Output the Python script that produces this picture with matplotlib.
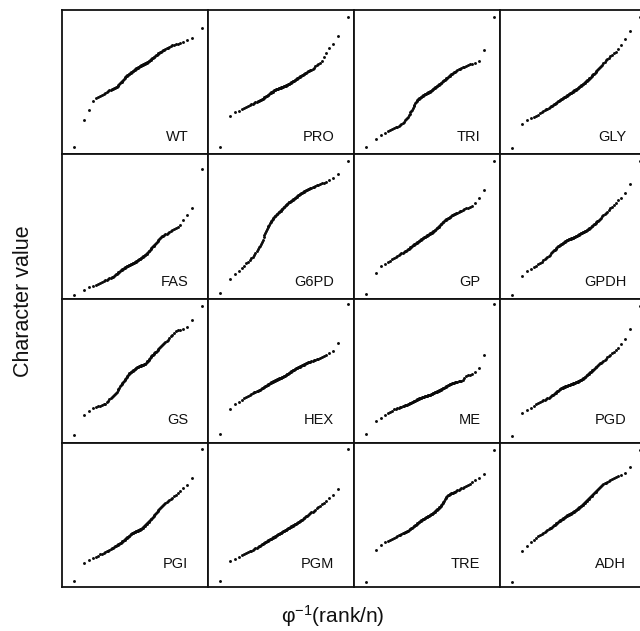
from statistics import NormalDist
import numpy as np
import matplotlib
matplotlib.use("Agg")
import matplotlib.pyplot as plt

plt.rcParams['font.family'] = ['Liberation Sans', 'DejaVu Sans']
plt.rcParams['mathtext.fontset'] = 'custom'
plt.rcParams['mathtext.rm'] = 'Liberation Sans'
plt.rcParams['mathtext.default'] = 'regular'

# locus names, row by row
names = ['WT', 'PRO', 'TRI', 'GLY',
         'FAS', 'G6PD', 'GP', 'GPDH',
         'GS', 'HEX', 'ME', 'PGD',
         'PGI', 'PGM', 'TRE', 'ADH']

# sorted character values per locus (arbitrary units, 0-100), 100 lines each
wt = [5, 24, 31, 36.7, 38.7, 39.7, 40.6, 41.3, 42.0, 42.6, 43.2, 43.7, 44.2, 44.6, 45.1, 45.5, 45.8, 46.2, 46.6, 46.9,
      47.5, 48.1, 48.7, 49.3, 49.8, 50.4, 50.9, 51.5, 52.1, 52.7, 53.3, 53.9, 54.4, 54.8, 55.2, 55.5, 55.9, 56.2, 56.6, 56.9,
      57.3, 57.6, 57.9, 58.3, 58.6, 58.9, 59.3, 59.6, 59.9, 60.1, 60.4, 60.6, 60.9, 61.1, 61.4, 61.6, 61.9, 62.1, 62.4, 62.6,
      62.9, 63.1, 63.4, 63.6, 63.9, 64.2, 64.4, 64.8, 65.2, 65.6, 66.0, 66.4, 66.8, 67.2, 67.7, 68.1, 68.5, 69.0, 69.5, 70.0,
      70.4, 70.7, 71.2, 71.6, 72.0, 72.5, 72.9, 73.4, 74.0, 74.5, 75.1, 75.4, 75.8, 76.2, 76.6, 77.1, 77.8, 78.9, 80.6, 87.5]
pro = [5, 26.7, 29.0, 30.3, 31.3, 32.1, 32.8, 33.5, 34.0, 34.6, 35.0, 35.5, 35.9, 36.3, 36.7, 37.1, 37.4, 37.8, 38.2, 38.6,
       39.1, 39.5, 39.9, 40.3, 40.7, 41.1, 41.4, 41.8, 42.2, 42.5, 42.9, 43.2, 43.5, 43.9, 44.2, 44.5, 44.7, 44.9, 45.1, 45.3,
       45.4, 45.6, 45.8, 46.0, 46.2, 46.4, 46.5, 46.7, 46.9, 47.1, 47.3, 47.5, 47.6, 47.8, 48.0, 48.2, 48.4, 48.7, 49.0, 49.3,
       49.6, 49.9, 50.2, 50.5, 50.8, 51.1, 51.4, 51.7, 52.1, 52.4, 52.7, 53.1, 53.4, 53.7, 54.1, 54.5, 54.8, 55.1, 55.5, 55.8,
       56.2, 56.6, 57.0, 57.4, 57.8, 58.2, 58.7, 59.4, 60.1, 60.9, 61.7, 62.6, 63.5, 64.9, 67.4, 70.2, 73.4, 76.5, 82.2, 95]
tri = [5, 10.6, 13.3, 14.9, 15.9, 16.8, 17.5, 18.1, 18.7, 19.2, 19.7, 20.1, 21.0, 21.9, 22.6, 23.4, 24.1, 24.8, 25.9, 26.9,
       27.9, 29.0, 29.9, 31.0, 32.1, 33.2, 34.2, 35.2, 36.3, 37.2, 37.8, 38.1, 38.5, 38.9, 39.2, 39.6, 39.9, 40.3, 40.6, 40.9,
       41.2, 41.5, 41.7, 42.0, 42.2, 42.5, 42.8, 43.0, 43.3, 43.5, 43.8, 44.0, 44.3, 44.6, 44.9, 45.3, 45.7, 46.0, 46.4, 46.7,
       47.1, 47.4, 47.8, 48.2, 48.6, 48.9, 49.3, 49.7, 50.1, 50.5, 50.9, 51.4, 51.8, 52.2, 52.7, 53.1, 53.6, 54.1, 54.5, 55.0,
       55.4, 55.8, 56.3, 56.7, 57.2, 57.7, 58.2, 58.8, 59.3, 59.8, 60.2, 60.7, 61.2, 61.7, 62.3, 62.9, 63.6, 64.6, 72, 95.4]
gly = [4, 20.8, 23.6, 24.8, 25.9, 26.7, 27.5, 28.4, 29.1, 29.9, 30.5, 31.1, 31.7, 32.2, 32.7, 33.2, 33.7, 34.1, 34.6, 35.0,
       35.4, 35.8, 36.2, 36.6, 36.9, 37.3, 37.7, 38.0, 38.4, 38.7, 39.1, 39.4, 39.7, 40.0, 40.3, 40.7, 41.0, 41.3, 41.6, 41.9,
       42.2, 42.5, 42.8, 43.1, 43.4, 43.6, 43.9, 44.2, 44.5, 44.8, 45.1, 45.4, 45.6, 46.0, 46.4, 46.7, 47.1, 47.5, 47.8, 48.2,
       48.6, 48.9, 49.3, 49.7, 50.1, 50.5, 50.9, 51.3, 51.7, 52.2, 52.7, 53.2, 53.7, 54.2, 54.8, 55.3, 55.8, 56.4, 57.0, 57.6,
       58.2, 58.9, 59.7, 60.5, 61.3, 62.1, 63.0, 64.0, 65.0, 66.1, 67.0, 67.9, 68.8, 69.9, 71.1, 72.8, 75.8, 79.6, 85.1, 95]
fas = [2.5, 6.1, 7.9, 8.9, 9.7, 10.3, 10.8, 11.4, 12.0, 12.5, 13.0, 13.5, 13.9, 14.3, 14.7, 15.2, 15.7, 16.3, 16.8, 17.2,
       17.7, 18.2, 18.6, 19.0, 19.5, 19.9, 20.3, 20.7, 21.1, 21.4, 21.8, 22.0, 22.2, 22.5, 22.7, 23.0, 23.2, 23.4, 23.7, 23.9,
       24.1, 24.3, 24.6, 24.8, 25.0, 25.2, 25.5, 25.8, 26.2, 26.5, 26.8, 27.1, 27.4, 27.7, 28.0, 28.4, 28.7, 29.0, 29.3, 29.7,
       30.0, 30.3, 30.6, 31.0, 31.4, 32.0, 32.6, 33.1, 33.7, 34.3, 34.9, 35.5, 36.1, 36.7, 37.4, 38.1, 38.6, 39.2, 39.8, 40.4,
       41.0, 41.7, 42.4, 43.0, 43.4, 43.9, 44.4, 45.0, 45.5, 46.1, 46.8, 47.5, 48.2, 49.0, 49.8, 50.9, 54.1, 58.0, 62.6, 90]
g6pd = [3.5, 13.7, 16.7, 19.1, 21.1, 22.8, 24.3, 25.5, 26.7, 27.8, 28.8, 30.3, 31.8, 33.2, 34.5, 35.7, 36.7, 37.8, 39.2, 40.7,
        42.3, 43.8, 45.3, 46.7, 48.1, 49.5, 50.4, 51.2, 52.0, 52.7, 53.5, 54.2, 54.9, 55.7, 56.4, 57.0, 57.5, 57.9, 58.4, 58.8,
        59.3, 59.7, 60.2, 60.6, 61.0, 61.5, 61.9, 62.3, 62.8, 63.2, 63.7, 64.1, 64.5, 65.0, 65.4, 65.8, 66.2, 66.6, 66.9, 67.2,
        67.6, 67.9, 68.2, 68.6, 68.9, 69.3, 69.6, 70.0, 70.4, 70.7, 71.1, 71.5, 71.9, 72.3, 72.7, 73.1, 73.4, 73.7, 74.0, 74.3,
        74.6, 74.9, 75.2, 75.6, 75.9, 76.3, 76.7, 77.1, 77.6, 78.0, 78.4, 78.8, 79.3, 79.8, 80.4, 81.1, 81.9, 83.3, 86.3, 95]
gp = [3, 17.6, 22.3, 24.0, 25.3, 26.3, 27.3, 28.1, 28.8, 29.5, 30.1, 30.7, 31.2, 31.7, 32.2, 32.7, 33.2, 33.6, 34.1, 34.6,
      35.0, 35.5, 35.9, 36.4, 36.8, 37.2, 37.6, 38.0, 38.4, 38.8, 39.1, 39.5, 39.9, 40.2, 40.6, 40.8, 41.2, 41.5, 41.8, 42.0,
      42.3, 42.6, 42.9, 43.2, 43.5, 43.7, 44.0, 44.3, 44.5, 44.8, 45.1, 45.4, 45.6, 45.9, 46.2, 46.5, 46.8, 47.3, 47.7, 48.2,
      48.6, 49.0, 49.5, 49.9, 50.4, 50.9, 51.3, 51.8, 52.3, 52.8, 53.3, 53.8, 54.1, 54.5, 54.9, 55.2, 55.6, 56.0, 56.3, 56.8,
      57.2, 57.6, 58.1, 58.4, 58.8, 59.2, 59.6, 60.0, 60.4, 60.9, 61.4, 61.9, 62.4, 63.0, 63.6, 64.4, 66.2, 69.6, 75.0, 95]
gpdh = [2.6, 15.7, 18.9, 20.4, 21.6, 22.5, 23.6, 24.6, 25.6, 26.5, 27.4, 28.2, 28.9, 29.7, 30.5, 31.2, 31.9, 32.6, 33.3, 33.9,
        34.5, 35.2, 35.7, 36.2, 36.6, 36.9, 37.3, 37.6, 38.0, 38.3, 38.7, 39.0, 39.3, 39.6, 40.0, 40.3, 40.6, 40.8, 41.0, 41.1,
        41.3, 41.5, 41.7, 41.9, 42.0, 42.2, 42.4, 42.6, 42.9, 43.1, 43.3, 43.6, 43.8, 44.1, 44.3, 44.6, 44.8, 45.1, 45.3, 45.5,
        45.8, 46.0, 46.3, 46.6, 46.8, 47.1, 47.3, 47.6, 48.0, 48.4, 48.8, 49.2, 49.6, 50.1, 50.5, 51.0, 51.4, 51.9, 52.3, 52.8,
        53.4, 54.0, 54.7, 55.4, 56.1, 56.9, 57.7, 58.5, 59.4, 60.3, 61.3, 62.4, 63.6, 64.8, 66.3, 68.0, 70.0, 72.8, 79.3, 95]
gs = [5.5, 19.5, 22.2, 23.8, 24.6, 25.2, 25.8, 26.2, 26.7, 27.2, 28.2, 29.1, 30.0, 30.8, 31.6, 32.3, 33.0, 33.7, 34.6, 35.5,
      36.4, 37.3, 38.1, 39.0, 39.8, 40.6, 41.4, 42.2, 43.0, 43.7, 44.5, 45.2, 45.9, 46.6, 47.3, 47.8, 48.2, 48.6, 49.0, 49.3,
      49.7, 50.0, 50.4, 50.7, 51.1, 51.4, 51.8, 52.1, 52.4, 52.5, 52.7, 52.9, 53.1, 53.2, 53.4, 53.6, 53.7, 53.9, 54.1, 54.3,
      54.4, 54.7, 55.2, 55.8, 56.4, 56.9, 57.5, 58.1, 58.7, 59.3, 59.9, 60.6, 61.1, 61.6, 62.1, 62.7, 63.2, 63.8, 64.4, 65.0,
      65.6, 66.2, 66.8, 67.5, 68.2, 68.9, 69.7, 70.5, 71.5, 72.6, 73.8, 75.0, 76.4, 77.7, 78.0, 78.5, 79.2, 80.4, 85, 95]
hexk = [5.8, 23.7, 26.7, 28.5, 29.9, 31.0, 31.9, 32.7, 33.3, 33.9, 34.4, 34.9, 35.3, 35.7, 36.1, 36.5, 36.9, 37.3, 37.8, 38.1,
        38.5, 38.9, 39.2, 39.6, 39.9, 40.3, 40.6, 40.9, 41.2, 41.5, 41.8, 42.1, 42.3, 42.6, 42.8, 43.0, 43.3, 43.5, 43.7, 43.9,
        44.2, 44.4, 44.6, 44.8, 45.0, 45.2, 45.5, 45.7, 45.9, 46.1, 46.3, 46.5, 46.8, 47.1, 47.4, 47.7, 48.0, 48.3, 48.6, 48.9,
        49.2, 49.5, 49.8, 50.1, 50.4, 50.7, 51.1, 51.3, 51.6, 51.8, 52.1, 52.3, 52.6, 52.8, 53.1, 53.4, 53.6, 53.9, 54.2, 54.5,
        54.8, 55.1, 55.5, 55.8, 56.1, 56.3, 56.6, 56.9, 57.2, 57.6, 57.9, 58.3, 58.7, 59.2, 60.0, 61.0, 62.1, 63.6, 69.2, 96]
me = [6, 15.4, 17.5, 19.1, 20.4, 21.4, 22.3, 23.1, 23.6, 24.0, 24.3, 24.7, 25.0, 25.3, 25.6, 25.9, 26.2, 26.4, 26.7, 27.0,
      27.3, 27.6, 27.9, 28.2, 28.5, 28.7, 29.0, 29.2, 29.5, 29.8, 30.0, 30.3, 30.5, 30.7, 31.0, 31.2, 31.3, 31.5, 31.6, 31.8,
      31.9, 32.1, 32.2, 32.3, 32.5, 32.6, 32.8, 32.9, 33.0, 33.2, 33.4, 33.5, 33.8, 34.0, 34.2, 34.4, 34.7, 34.9, 35.1, 35.3,
      35.5, 35.8, 36.0, 36.2, 36.5, 36.7, 36.9, 37.2, 37.4, 37.7, 38.0, 38.3, 38.6, 38.9, 39.2, 39.5, 39.8, 40.1, 40.4, 40.7,
      41.0, 41.2, 41.4, 41.6, 41.8, 42.0, 42.2, 42.5, 42.7, 43.0, 43.3, 44.6, 46.1, 46.7, 47.2, 47.9, 49.0, 51.5, 60.5, 96]
pgd = [4.5, 20.5, 22.6, 24.3, 25.6, 26.8, 27.7, 28.3, 28.9, 29.5, 29.9, 30.4, 30.8, 31.3, 31.9, 32.4, 32.9, 33.4, 33.9, 34.4,
       34.8, 35.3, 35.7, 36.2, 36.6, 37.0, 37.4, 37.8, 38.1, 38.3, 38.5, 38.7, 38.9, 39.0, 39.2, 39.4, 39.6, 39.7, 39.9, 40.1,
       40.3, 40.4, 40.6, 40.8, 40.9, 41.1, 41.3, 41.4, 41.6, 41.8, 42.0, 42.2, 42.4, 42.7, 42.9, 43.1, 43.3, 43.5, 43.7, 44.0,
       44.4, 44.7, 45.1, 45.5, 45.9, 46.3, 46.7, 47.1, 47.6, 48.0, 48.4, 48.9, 49.3, 49.8, 50.2, 50.7, 51.2, 51.7, 52.2, 52.8,
       53.3, 53.8, 54.4, 55.0, 55.6, 56.2, 56.9, 57.6, 58.4, 59.2, 60.0, 60.9, 61.9, 63.0, 64.1, 65.5, 68.2, 72.1, 79.2, 95]
pgi = [4, 16.8, 18.7, 20.0, 21.0, 21.8, 22.6, 23.2, 23.8, 24.3, 24.8, 25.3, 25.8, 26.3, 26.8, 27.2, 27.7, 28.1, 28.5, 28.9,
       29.3, 29.7, 30.0, 30.4, 30.8, 31.1, 31.6, 32.0, 32.4, 32.9, 33.3, 33.7, 34.1, 34.5, 34.9, 35.3, 35.7, 36.1, 36.5, 36.8,
       37.2, 37.4, 37.6, 37.8, 38.0, 38.3, 38.5, 38.7, 38.9, 39.1, 39.4, 39.6, 39.8, 40.0, 40.2, 40.5, 40.8, 41.2, 41.7, 42.1,
       42.6, 43.0, 43.5, 44.0, 44.4, 44.9, 45.3, 45.8, 46.3, 46.8, 47.3, 47.9, 48.5, 49.1, 49.7, 50.4, 51.0, 51.7, 52.4, 53.1,
       53.8, 54.6, 55.4, 56.1, 56.7, 57.3, 58.0, 58.7, 59.4, 60.2, 61.0, 61.8, 62.8, 63.9, 65.1, 66.5, 68.4, 70.9, 75.3, 96]
pgm = [4, 17.8, 19.7, 21.0, 22.0, 22.9, 23.6, 24.2, 24.8, 25.3, 25.8, 26.3, 26.8, 27.3, 27.7, 28.2, 28.6, 29.1, 29.5, 29.8,
       30.2, 30.6, 31.0, 31.3, 31.7, 32.0, 32.3, 32.6, 33.0, 33.3, 33.6, 33.8, 34.1, 34.4, 34.7, 35.0, 35.3, 35.5, 35.8, 36.1,
       36.4, 36.6, 36.9, 37.2, 37.4, 37.7, 38.0, 38.2, 38.5, 38.7, 39.0, 39.2, 39.5, 39.8, 40.0, 40.3, 40.6, 40.8, 41.1, 41.4,
       41.7, 42.0, 42.2, 42.5, 42.8, 43.1, 43.4, 43.7, 44.0, 44.3, 44.7, 45.0, 45.3, 45.6, 46.0, 46.3, 46.7, 47.1, 47.6, 48.0,
       48.5, 49.0, 49.5, 50.0, 50.5, 51.1, 51.7, 52.3, 52.9, 53.7, 54.5, 55.3, 56.3, 57.3, 58.5, 59.8, 61.5, 63.9, 68.2, 96]
tre = [3.5, 25.9, 29.1, 30.9, 31.9, 32.8, 33.5, 34.1, 34.7, 35.3, 35.8, 36.2, 36.7, 37.1, 37.5, 37.9, 38.2, 38.6, 39.0, 39.4,
       39.9, 40.4, 40.8, 41.2, 41.7, 42.1, 42.5, 42.9, 43.3, 43.7, 44.1, 44.4, 44.8, 45.2, 45.5, 45.9, 46.2, 46.5, 46.8, 47.0,
       47.3, 47.6, 47.9, 48.2, 48.4, 48.7, 49.0, 49.3, 49.5, 49.8, 50.1, 50.4, 50.7, 50.9, 51.2, 51.5, 51.7, 52.2, 52.6, 53.1,
       53.5, 54.0, 54.4, 54.9, 55.4, 55.8, 56.3, 57.0, 57.7, 58.4, 59.2, 59.9, 60.7, 61.5, 62.3, 63.1, 63.6, 63.9, 64.2, 64.5,
       64.9, 65.2, 65.5, 65.9, 66.2, 66.6, 67.0, 67.4, 67.8, 68.3, 68.8, 69.4, 70.0, 70.6, 71.6, 72.7, 74.1, 75.9, 78.6, 95.3]
adh = [3.5, 24.9, 28.6, 30.9, 32.6, 34.0, 35.3, 36.1, 36.9, 37.6, 38.3, 38.9, 39.5, 40.1, 40.7, 41.2, 41.8, 42.3, 42.8, 43.3,
       43.8, 44.2, 44.7, 45.1, 45.5, 45.9, 46.4, 46.7, 47.1, 47.4, 47.8, 48.1, 48.4, 48.7, 49.0, 49.3, 49.6, 49.8, 50.1, 50.4,
       50.7, 50.9, 51.2, 51.5, 51.8, 52.0, 52.3, 52.6, 52.9, 53.2, 53.5, 53.9, 54.2, 54.5, 54.9, 55.2, 55.5, 55.9, 56.2, 56.6,
       57.0, 57.5, 58.0, 58.4, 58.9, 59.3, 59.8, 60.3, 60.8, 61.3, 61.8, 62.3, 62.8, 63.3, 63.9, 64.4, 65.0, 65.6, 66.2, 66.8,
       67.4, 68.1, 68.7, 69.4, 70.1, 70.8, 71.3, 71.8, 72.4, 73.0, 73.6, 74.3, 75.0, 75.8, 76.6, 77.2, 77.8, 78.7, 82.9, 95.3]

values = [wt, pro, tri, gly, fas, g6pd, gp, gpdh, gs, hexk, me, pgd, pgi, pgm, tre, adh]

W, H = 640, 631
fig = plt.figure(figsize=(W / 100, H / 100), dpi=100)

left, top = 62, 10
pw, ph = 146, 144.25
label_y = [0.092, 0.09, 0.13, 0.135]

for k, (name, vals) in enumerate(zip(names, values)):
    r, c = divmod(k, 4)
    ax = fig.add_axes([(left + c * pw) / W, 1 - (top + (r + 1) * ph) / H, pw / W, ph / H])
    n = len(vals)
    # normal scores phi^-1(rank/n)
    q = [NormalDist().inv_cdf((i - 0.5) / n) for i in range(1, n + 1)]
    ax.plot(q, np.sort(vals), 'o', ms=2.1, mec='none', color='#0a0a0a')
    ax.set_xlim(-3.058, 2.817)
    ax.set_ylim(0, 100)
    ax.set_xticks([])
    ax.set_yticks([])
    for s in ax.spines.values():
        s.set_linewidth(1.3)
        s.set_color('#111111')
    ax.text(0.865, label_y[r], name, transform=ax.transAxes, ha='right', va='baseline',
            fontsize=10.5, color='#111111')

fig.text(24 / W, 1 - 301 / H, 'Character value', rotation=90, ha='center', va='center',
         fontsize=15.5, color='#111111')
fig.text(333 / W, 1 - 616 / H, 'φ$^{-1}$(rank/n)', ha='center', va='center',
         fontsize=15, color='#111111')

fig.savefig('out.png', dpi=100, facecolor='white')
